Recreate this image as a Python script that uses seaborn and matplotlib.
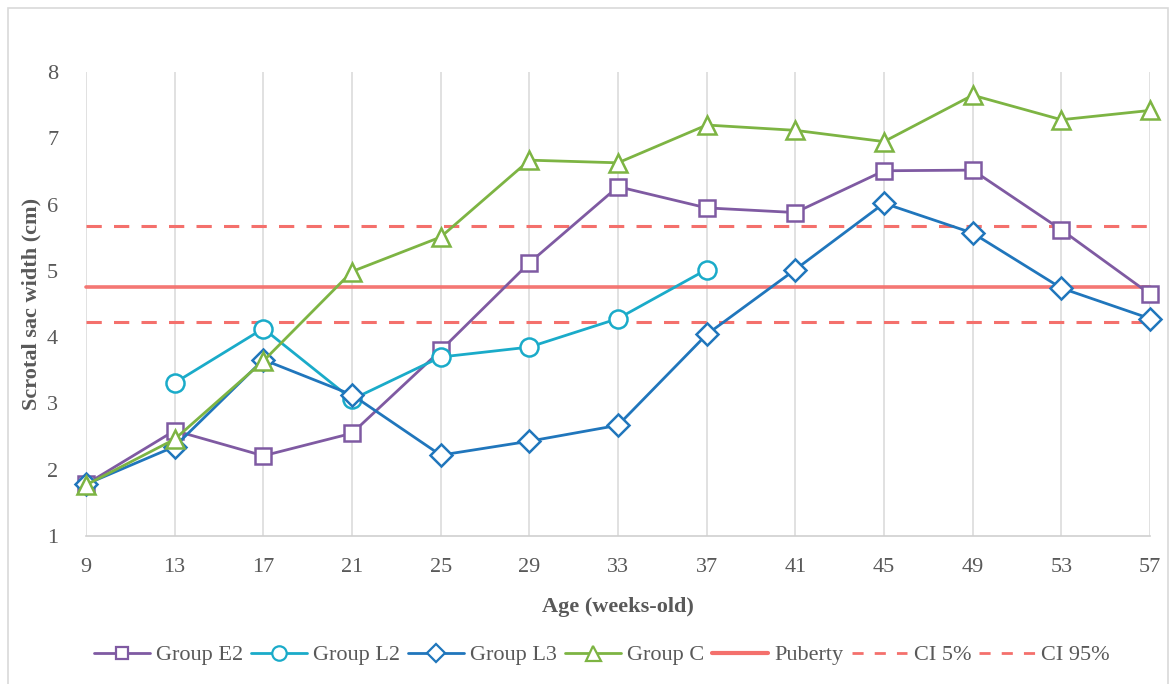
import numpy as np
import pandas as pd
import matplotlib.pyplot as plt
import matplotlib.patches as mpatches
import seaborn as sns

sns.set_style("white")
plt.rcParams['font.family'] = ['Liberation Serif', 'DejaVu Serif']

weeks = [9, 13, 17, 21, 25, 29, 33, 37, 41, 45, 49, 53, 57]
group_e2 = [1.78, 2.59, 2.21, 2.55, 3.80, 5.12, 6.27, 5.95, 5.88, 6.51, 6.52, 5.62, 4.65]
group_l2 = [np.nan, 3.31, 4.13, 3.06, 3.70, 3.85, 4.28, 5.02, np.nan, np.nan, np.nan, np.nan, np.nan]
group_l3 = [1.78, 2.35, 3.66, 3.13, 2.22, 2.43, 2.67, 4.04, 5.02, 6.02, 5.57, 4.74, 4.28]
group_c = [1.77, 2.46, 3.64, 4.99, 5.51, 6.67, 6.63, 7.20, 7.12, 6.95, 7.65, 7.28, 7.42]
puberty = [4.76] * len(weeks)
ci5 = [4.23] * len(weeks)
ci95 = [5.68] * len(weeks)

df = pd.DataFrame({'week': weeks, 'Group E2': group_e2, 'Group L2': group_l2,
                   'Group L3': group_l3, 'Group C': group_c,
                   'Puberty': puberty, 'CI 5%': ci5, 'CI 95%': ci95})

fig = plt.figure(figsize=(11.76, 6.84), dpi=100)
ax = fig.add_axes([86/1176, 1 - 536/684, (1150 - 86)/1176, (536 - 72)/684])

# reference lines first (behind the groups)
red = '#F4706C'
sns.lineplot(data=df, x='week', y='Puberty', ax=ax, color=red, lw=2.6, label='_p', alpha=0.95)
sns.lineplot(data=df, x='week', y='CI 5%', ax=ax, color=red, lw=2.2, label='_c5')
sns.lineplot(data=df, x='week', y='CI 95%', ax=ax, color=red, lw=2.2, label='_c95')
for ln in ax.lines[1:3]:
    ln.set_dashes([5, 4])

groups = [('Group E2', '#7F5AA2', 's', 11.5),
          ('Group L2', '#1AABC9', 'o', 13),
          ('Group L3', '#2076BC', 'D', 11),
          ('Group C', '#7DB443', '^', 13.5)]
for name, col, mk, ms in groups:
    sub = df[['week', name]].dropna()
    sns.lineplot(data=sub, x='week', y=name, ax=ax, color=col, lw=2.0,
                 marker=mk, markersize=ms, markerfacecolor='white',
                 markeredgecolor=col, markeredgewidth=1.8, label='_' + name)

for ln in ax.lines:
    ln.set_clip_on(False)

ax.set_xlim(9, 57)
ax.set_ylim(1, 8)
ax.set_xticks(weeks)
ax.set_yticks(range(1, 9))
ax.grid(axis='x', color='#d9d9d9', lw=1.1)
ax.grid(axis='y', visible=False)
for s in ['top', 'right', 'left']:
    ax.spines[s].set_visible(False)
ax.spines['bottom'].set_color('#d0d0d0')
ax.spines['bottom'].set_linewidth(1.2)
ax.tick_params(axis='both', length=0, labelsize=16, colors='#595959')
ax.tick_params(axis='x', pad=16)
ax.tick_params(axis='y', pad=20)
ax.set_xlabel('Age (weeks-old)', fontsize=16, fontweight='bold', color='#595959', labelpad=14)
ax.set_ylabel('Scrotal sac width (cm)', fontsize=16, fontweight='bold', color='#595959', labelpad=4)

# legend
handles = []
for name, col, mk, ms in groups:
    handles.append(plt.Line2D([], [], color=col, lw=2.0, marker=mk, markersize=ms * 0.8,
                              markerfacecolor='white', markeredgecolor=col, markeredgewidth=1.6))
handles.append(plt.Line2D([], [], color=red, lw=3))
handles.append(plt.Line2D([], [], color=red, lw=2, dashes=[4, 4]))
handles.append(plt.Line2D([], [], color=red, lw=2, dashes=[4, 4]))
labels = ['Group E2', 'Group L2', 'Group L3', 'Group C', 'Puberty', 'CI 5%', 'CI 95%']
fig.legend(handles, labels, loc='center', bbox_to_anchor=(602/1176, 1 - 655/684), ncol=7,
           frameon=False, fontsize=16, handlelength=2.5, columnspacing=0.35, handletextpad=0.3,
           labelcolor='#595959')

# chart border
fig.add_artist(mpatches.Rectangle((8/1176, -0.05), (1168 - 8)/1176, 1 - 8/684 + 0.05,
                                  transform=fig.transFigure, fill=False, edgecolor='#d9d9d9', lw=1.2))

fig.savefig('out.png', dpi=100)
